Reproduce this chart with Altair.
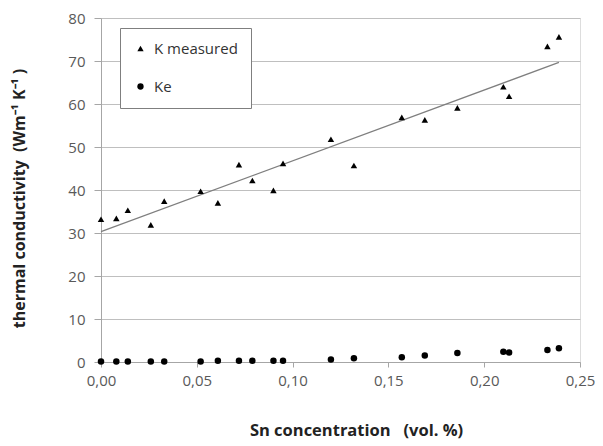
import altair as alt
import pandas as pd

sn = [0.000, 0.008, 0.014, 0.026, 0.033, 0.052, 0.061, 0.072, 0.079, 0.090,
      0.095, 0.120, 0.132, 0.157, 0.169, 0.186, 0.210, 0.213, 0.233, 0.239]
k_measured = [33.2, 33.4, 35.3, 31.9, 37.4, 39.7, 37.0, 45.9, 42.2, 39.9,
              46.2, 51.8, 45.7, 56.9, 56.3, 59.1, 64.0, 61.8, 73.4, 75.6]
ke = [0.1, 0.1, 0.1, 0.1, 0.1, 0.1, 0.3, 0.3, 0.3, 0.3,
      0.3, 0.6, 0.85, 1.1, 1.5, 2.1, 2.4, 2.2, 2.8, 3.2]
series = ["K measured", "Ke"]
x_ticks = [0.0, 0.05, 0.10, 0.15, 0.20, 0.25]
y_ticks = [0, 10, 20, 30, 40, 50, 60, 70, 80]

rows = []
for xi, ki in zip(sn, k_measured):
    rows.append({"x": xi, "y": ki, "series": series[0]})
for xi, ei in zip(sn, ke):
    rows.append({"x": xi, "y": ei, "series": series[1]})
df = pd.DataFrame(rows)

FONT = "Open Sans"
GRAY = "#595959"

xenc = alt.X("x:Q", scale=alt.Scale(domain=[0, 0.25], nice=False),
             axis=alt.Axis(values=x_ticks, format=".2f",
                           labelExpr="replace(datum.label, '.', ',')",
                           labelFlush=False, labelOverlap=False,
                           grid=False, domainColor="#a6a6a6", tickColor="#a6a6a6",
                           tickSize=5, labelPadding=6, labelFontSize=15,
                           labelColor=GRAY, labelFont=FONT,
                           title="Sn concentration\u00a0\u00a0\u00a0(vol. %)",
                           titleFont=FONT, titleFontSize=16.5, titleFontWeight="bold",
                           titleColor="#222222", titleX=255, titleY=68,
                           titleBaseline="middle", titleAnchor="middle"))
yenc = alt.Y("y:Q", scale=alt.Scale(domain=[0, 80], nice=False),
             axis=alt.Axis(values=y_ticks, grid=True, gridColor="#bfbfbf",
                           domainColor="#a6a6a6", tickColor="#a6a6a6", tickSize=7,
                           labelPadding=9, labelFontSize=15, labelColor=GRAY,
                           labelFont=FONT,
                           title="thermal conductivity\u00a0\u00a0(Wm⁻¹ K⁻¹ )",
                           titleFont=FONT, titleFontSize=16, titleFontWeight="bold",
                           titleColor="#222222", titleX=-82, titleY=180,
                           titleAngle=-90, titleBaseline="middle", titleAnchor="middle"))

points = alt.Chart(df).mark_point(filled=True, opacity=1, color="black", size=42).encode(
    x=xenc, y=yenc,
    shape=alt.Shape("series:N",
                    scale=alt.Scale(domain=series, range=["triangle-up", "circle"]),
                    legend=alt.Legend(title=None, orient="none", legendX=19, legendY=10,
                                      fillColor="white", strokeColor="#7f7f7f",
                                      padding=13, rowPadding=22, labelFontSize=15,
                                      labelFont=FONT, labelColor="#333333",
                                      symbolFillColor="black", symbolStrokeColor="black",
                                      symbolSize=40, labelOffset=6)),
)

trend = alt.Chart(df).transform_filter(
    alt.datum.series == series[0]
).transform_regression("x", "y").mark_line(color="#7f7f7f", strokeWidth=1.3).encode(
    x="x:Q", y="y:Q"
)

chart = alt.layer(trend, points).properties(
    width=479, height=344,
    autosize=alt.AutoSizeParams(type="none"),
    padding={"left": 93, "top": 10, "right": 15, "bottom": 78},
).configure_view(stroke="#a6a6a6", strokeWidth=1).configure(background="white")

chart.save("out.html", embed_options={"renderer": "svg", "actions": False})
